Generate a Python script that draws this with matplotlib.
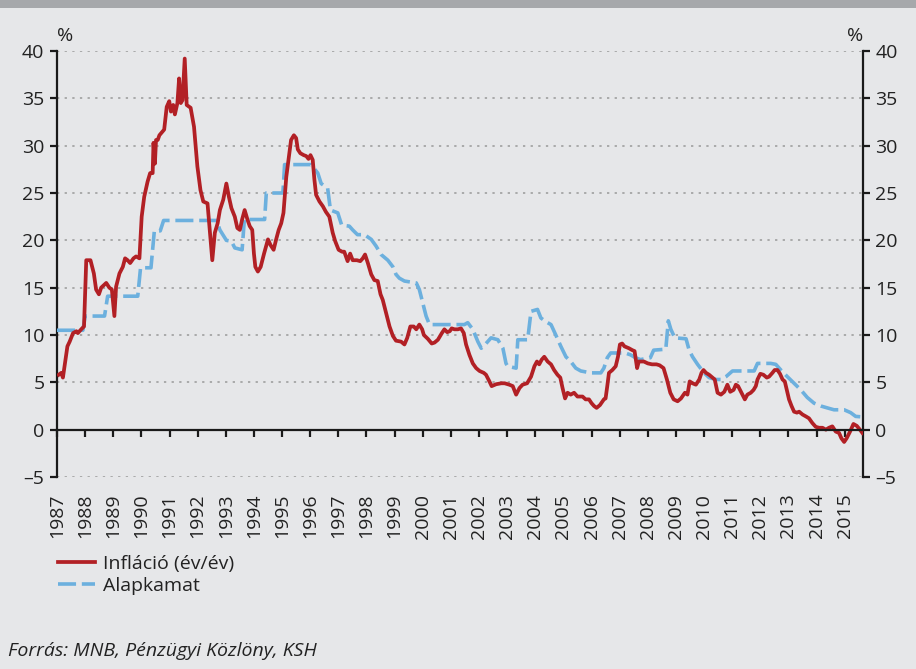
import matplotlib
matplotlib.use("Agg")
import matplotlib.pyplot as plt
from matplotlib.patches import Rectangle

plt.rcParams['font.family'] = ['Open Sans', 'DejaVu Sans']

# Infláció (év/év), %  -- time in decimal years
infl_t = [1987.06, 1987.15, 1987.21, 1987.37, 1987.45, 1987.57, 1987.69, 1987.74, 1987.86, 1987.96,
          1988.04, 1988.19, 1988.31, 1988.39, 1988.49, 1988.57, 1988.75, 1988.86, 1988.95,
          1989.04, 1989.10, 1989.22, 1989.34, 1989.42, 1989.51, 1989.60, 1989.72, 1989.81, 1989.93,
          1990.01, 1990.10, 1990.22, 1990.31, 1990.40, 1990.43, 1990.48, 1990.52, 1990.58, 1990.64,
          1990.81, 1990.90, 1990.99, 1991.05, 1991.13, 1991.19, 1991.28, 1991.34, 1991.40, 1991.46,
          1991.54, 1991.61, 1991.75, 1991.87, 1991.99, 1992.10, 1992.20, 1992.35, 1992.43, 1992.52,
          1992.61, 1992.71, 1992.79, 1992.91, 1993.02, 1993.11, 1993.20, 1993.32, 1993.41, 1993.50,
          1993.58, 1993.67, 1993.77, 1993.85, 1993.94, 1994.00, 1994.05, 1994.14, 1994.24, 1994.36,
          1994.50, 1994.59, 1994.70, 1994.79, 1994.88, 1994.97, 1995.05, 1995.15, 1995.23, 1995.32,
          1995.42, 1995.50, 1995.56, 1995.65, 1995.77, 1995.86, 1995.94, 1996.01, 1996.09, 1996.15,
          1996.21, 1996.33, 1996.45, 1996.56, 1996.68, 1996.80, 1996.89, 1997.01, 1997.13, 1997.21,
          1997.33, 1997.42, 1997.51, 1997.66, 1997.78, 1997.87, 1997.95, 1998.05, 1998.17, 1998.28,
          1998.40, 1998.50, 1998.58, 1998.70, 1998.82, 1998.94, 1999.05, 1999.23, 1999.35, 1999.45,
          1999.56, 1999.68, 1999.77, 1999.88, 1999.98, 2000.04, 2000.18, 2000.32, 2000.42, 2000.54,
          2000.68, 2000.77, 2000.87, 2000.96, 2001.03, 2001.13, 2001.25, 2001.36, 2001.46, 2001.54,
          2001.66, 2001.78, 2001.90, 2002.02, 2002.17, 2002.25, 2002.37, 2002.45, 2002.61, 2002.79,
          2002.91, 2003.08, 2003.20, 2003.32, 2003.44, 2003.55, 2003.71, 2003.85, 2003.97, 2004.06,
          2004.14, 2004.23, 2004.32, 2004.44, 2004.56, 2004.67, 2004.79, 2004.89, 2004.97, 2005.06,
          2005.15, 2005.26, 2005.38, 2005.50, 2005.68, 2005.79, 2005.91, 2006.00, 2006.09, 2006.18,
          2006.30, 2006.44, 2006.50, 2006.56, 2006.62, 2006.74, 2006.86, 2006.94, 2007.01, 2007.09,
          2007.17, 2007.33, 2007.45, 2007.53, 2007.62, 2007.68, 2007.86, 2008.00, 2008.15, 2008.31,
          2008.42, 2008.56, 2008.68, 2008.80, 2008.92, 2009.06, 2009.18, 2009.32, 2009.41, 2009.49,
          2009.59, 2009.71, 2009.83, 2009.91, 2009.98, 2010.07, 2010.18, 2010.30, 2010.38, 2010.48,
          2010.60, 2010.72, 2010.83, 2010.93, 2011.05, 2011.13, 2011.21, 2011.33, 2011.45, 2011.54,
          2011.66, 2011.76, 2011.84, 2011.90, 2012.00, 2012.11, 2012.23, 2012.31, 2012.43, 2012.51,
          2012.61, 2012.70, 2012.79, 2012.87, 2012.94, 2013.02, 2013.11, 2013.20, 2013.30, 2013.38,
          2013.50, 2013.62, 2013.73, 2013.85, 2013.97, 2014.09, 2014.21, 2014.33, 2014.44, 2014.56,
          2014.68, 2014.80, 2014.88, 2014.98, 2015.07, 2015.19, 2015.31, 2015.43, 2015.54, 2015.63]
infl_v = [5.8, 6.0, 5.5, 8.8, 9.3, 10.2, 10.4, 10.2, 10.6, 10.9,
          17.9, 17.9, 16.5, 14.8, 14.3, 15.0, 15.5, 15.0, 14.8,
          12.0, 15.1, 16.5, 17.2, 18.1, 17.9, 17.6, 18.1, 18.3, 18.1,
          22.5, 24.6, 26.2, 27.1, 27.1, 30.3, 28.1, 30.6, 30.6, 31.1,
          31.7, 34.1, 34.7, 33.6, 34.3, 33.3, 34.5, 37.1, 34.5, 34.8,
          39.2, 34.3, 34.0, 32.0, 27.8, 25.3, 24.1, 23.9, 21.1, 17.9,
          20.8, 21.8, 23.2, 24.3, 26.0, 24.6, 23.4, 22.5, 21.3, 21.1,
          22.2, 23.2, 22.2, 21.5, 21.1, 18.6, 17.2, 16.7, 17.2, 18.6,
          20.1, 19.5, 19.0, 20.1, 21.1, 21.8, 22.9, 26.7, 28.5, 30.6,
          31.1, 30.8, 29.6, 29.2, 29.0, 28.9, 28.6, 29.0, 28.5, 26.4,
          24.8, 24.1, 23.6, 23.0, 22.5, 20.8, 19.9, 19.0, 18.8, 18.8,
          17.8, 18.6, 17.9, 17.9, 17.8, 18.1, 18.5, 17.6, 16.4, 15.8,
          15.7, 14.3, 13.7, 12.3, 10.9, 9.9, 9.4, 9.3, 9.0, 9.7,
          10.9, 10.9, 10.6, 11.1, 10.6, 10.0, 9.6, 9.1, 9.2, 9.5,
          10.2, 10.6, 10.3, 10.4, 10.7, 10.6, 10.6, 10.7, 10.2, 9.0,
          7.9, 7.0, 6.5, 6.2, 6.0, 5.8, 5.1, 4.6, 4.8, 4.9,
          4.9, 4.75, 4.6, 3.7, 4.4, 4.75, 4.9, 5.6, 6.7, 7.2,
          6.9, 7.4, 7.7, 7.2, 6.9, 6.3, 5.8, 5.5, 4.4, 3.3,
          3.9, 3.7, 3.9, 3.5, 3.5, 3.2, 3.2, 2.8, 2.5, 2.3,
          2.6, 3.2, 3.3, 4.6, 6.0, 6.3, 6.7, 7.7, 9.0, 9.1,
          8.8, 8.6, 8.4, 8.3, 6.5, 7.2, 7.2, 7.0, 6.9, 6.9,
          6.8, 6.5, 5.3, 3.9, 3.2, 3.0, 3.3, 3.9, 3.7, 5.1,
          4.9, 4.75, 5.3, 6.0, 6.3, 6.0, 5.8, 5.5, 5.3, 3.9,
          3.7, 4.0, 4.75, 4.0, 4.2, 4.75, 4.6, 3.9, 3.2, 3.7,
          3.9, 4.2, 4.6, 5.3, 5.9, 5.8, 5.5, 5.6, 6.0, 6.3,
          6.3, 5.9, 5.3, 5.1, 4.2, 3.2, 2.5, 1.9, 1.8, 1.9,
          1.6, 1.4, 1.2, 0.7, 0.3, 0.2, 0.2, 0.0, 0.2, 0.35,
          -0.2, -0.35, -0.9, -1.3, -0.9, -0.2, 0.6, 0.4, 0.0, -0.35]

# Alapkamat, %
rate_t = [1987.00, 1987.92, 1988.00, 1988.69, 1988.80, 1989.87, 1989.97, 1990.34, 1990.46, 1990.67,
          1990.79, 1992.67, 1992.79, 1993.02, 1993.20, 1993.32, 1993.58, 1993.66, 1994.38, 1994.44,
          1995.03, 1995.09, 1996.03, 1996.27, 1996.39, 1996.62, 1996.72, 1996.98, 1997.12, 1997.39,
          1997.51, 1997.68, 1997.93, 1998.17, 1998.34, 1998.52, 1998.76, 1998.94, 1999.05, 1999.17,
          1999.35, 1999.77, 1999.88, 2000.00, 2000.12, 2000.24, 2001.48, 2001.60, 2001.78, 2001.96,
          2002.08, 2002.25, 2002.43, 2002.67, 2002.85, 2002.96, 2003.02, 2003.32, 2003.38, 2003.73,
          2003.85, 2004.08, 2004.20, 2004.38, 2004.56, 2004.73, 2004.91, 2005.09, 2005.26, 2005.44,
          2005.62, 2005.97, 2006.33, 2006.44, 2006.56, 2006.68, 2007.20, 2007.39, 2007.56, 2007.74,
          2008.09, 2008.21, 2008.64, 2008.73, 2008.82, 2008.96, 2009.36, 2009.47, 2009.59, 2009.77,
          2010.00, 2010.18, 2010.42, 2010.60, 2010.78, 2011.01, 2011.78, 2011.90, 2012.37, 2012.55,
          2012.73, 2012.96, 2013.20, 2013.44, 2013.67, 2013.91, 2014.15, 2014.38, 2014.62, 2014.98,
          2015.21, 2015.39, 2015.63]
rate_v = [10.5, 10.5, 12.0, 12.0, 14.1, 14.1, 17.1, 17.1, 21.0, 21.0,
          22.1, 22.1, 21.1, 20.0, 19.9, 19.2, 19.0, 22.2, 22.2, 25.0,
          25.0, 28.0, 28.0, 27.1, 26.0, 25.5, 23.2, 22.9, 21.6, 21.5,
          21.1, 20.6, 20.6, 20.1, 19.4, 18.5, 17.9, 17.2, 16.4, 16.0,
          15.7, 15.5, 14.8, 13.4, 12.0, 11.1, 11.1, 11.3, 10.6, 9.3,
          8.6, 9.1, 9.7, 9.5, 8.6, 7.0, 6.7, 6.5, 9.5, 9.5,
          12.5, 12.7, 11.8, 11.4, 11.1, 10.0, 8.8, 7.7, 7.2, 6.5,
          6.2, 6.0, 6.0, 6.5, 7.6, 8.1, 8.1, 7.9, 7.6, 7.4,
          7.6, 8.4, 8.5, 11.5, 10.6, 9.7, 9.6, 8.4, 7.7, 6.9,
          6.0, 5.5, 5.3, 5.3, 5.6, 6.2, 6.2, 7.0, 7.0, 6.9,
          6.3, 5.6, 4.9, 4.2, 3.4, 2.8, 2.5, 2.3, 2.1, 2.1,
          1.8, 1.4, 1.35]

years = list(range(1987, 2016))
yticks = list(range(-5, 41, 5))

bg = '#e6e7e9'
red = '#b22025'
blue = '#6cb0de'
fs = 14

fig = plt.figure(figsize=(9.16, 6.69), dpi=100, facecolor=bg)
ax = fig.add_axes([57 / 916, 1 - 477 / 669, 806 / 916, 426 / 669])
ax.set_facecolor(bg)
fig.patches.append(Rectangle((0, 1 - 8 / 669), 1, 8 / 669, transform=fig.transFigure,
                             facecolor='#a6a8ab', edgecolor='none', zorder=0))

ax.plot(rate_t, rate_v, color=blue, lw=2.6, dashes=(5, 1.6), label='Alapkamat', zorder=3)
ax.plot(infl_t, infl_v, color=red, lw=2.7, label='Infláció (év/év)', zorder=4)

ax.set_xlim(1987, 2015.65)
ax.set_ylim(-5, 40)
ax.set_yticks(yticks)
ax.set_yticklabels([str(v).replace('-', '\u2013') for v in yticks])

# grid
ax.yaxis.grid(True, linestyle=(0, (1.5, 3.5)), color='#999999', lw=1.1)
ax.set_axisbelow(True)

for s in ['left', 'right', 'bottom']:
    ax.spines[s].set_color('#1a1a1a')
    ax.spines[s].set_linewidth(1.6)
ax.spines['top'].set_visible(False)
ax.spines['bottom'].set_position(('data', 0))
ax.spines['bottom'].set_zorder(5)

ax.tick_params(axis='y', left=True, right=True, labelleft=True, labelright=True,
               direction='out', length=5, width=1.6, color='#1a1a1a',
               labelsize=fs, labelcolor='#222222', pad=4)
ax.set_xticks(years)
ax.tick_params(axis='x', direction='out', length=5, width=1.6, color='#1a1a1a',
               labelbottom=False)

# year labels at the bottom of the plot area
sec = ax.secondary_xaxis(0)
sec.set_xticks(years)
sec.set_xticklabels([str(y) for y in years], rotation=90)
sec.tick_params(length=0, pad=12, labelsize=fs, labelcolor='#222222')
sec.spines['bottom'].set_visible(False)

ax.text(0.0, 1.015, '%', transform=ax.transAxes, fontsize=fs, color='#222222',
        ha='left', va='bottom')
ax.text(1.0, 1.015, '%', transform=ax.transAxes, fontsize=fs, color='#222222',
        ha='right', va='bottom')

handles, labels = ax.get_legend_handles_labels()
fig.legend(handles[::-1], labels[::-1], loc='upper left',
           bbox_to_anchor=(58 / 916, 1 - 555 / 669), frameon=False,
           fontsize=fs, handlelength=1.9, handletextpad=0.4,
           borderpad=0, borderaxespad=0, labelspacing=0.2, labelcolor='#222222')

fig.text(8 / 916, 1 - 651 / 669, 'Forrás: MNB, Pénzügyi Közlöny, KSH', fontsize=fs,
         style='italic', color='#222222', ha='left', va='center')

fig.savefig('out.png', dpi=100, facecolor=bg)
